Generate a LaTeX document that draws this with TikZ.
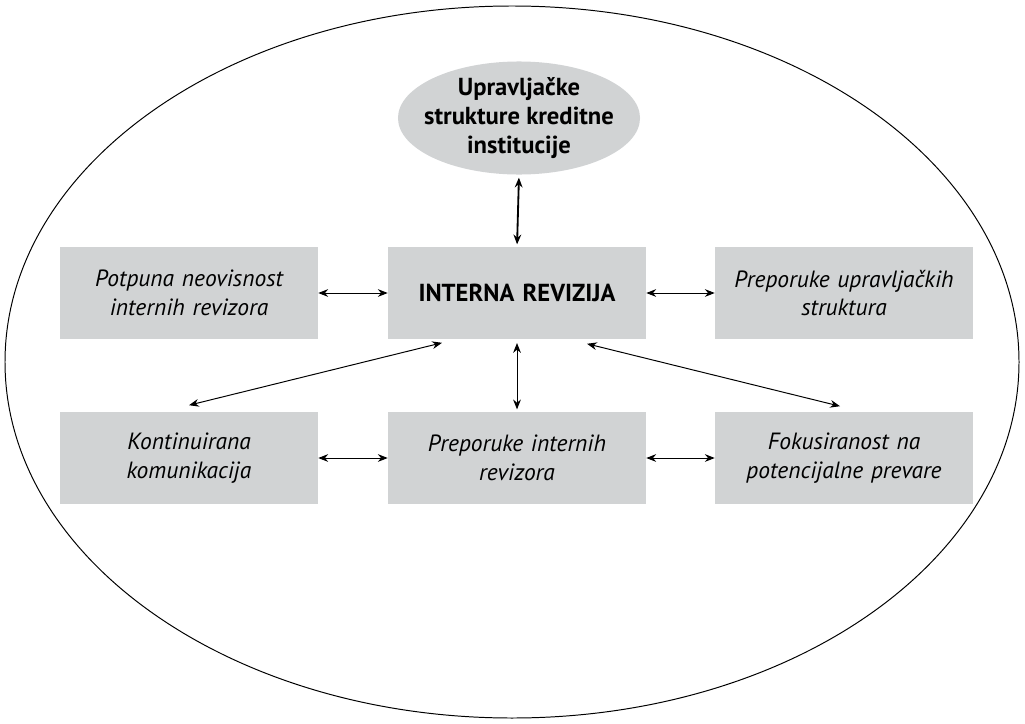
\documentclass[tikz,border=0pt]{standalone}
\usepackage{fontspec}
\setmainfont{PT Sans}
\usepackage{tikz}
\usetikzlibrary{positioning, shapes.geometric, arrows.meta, calc}

\definecolor{boxgray}{RGB}{209,211,212}

\tikzset{
  infobox/.style={fill=boxgray, minimum width=6.45cm, minimum height=2.275cm,
    text width=6.3cm, align=center, inner sep=0pt},
  topell/.style={ellipse, fill=boxgray, minimum width=6.05cm, minimum height=2.825cm},
  toptext/.style={align=center, font=\bfseries\fontsize{17.5}{20.5}\selectfont},
  dvarrow/.style={{Stealth[length=7pt,width=5.5pt]}-{Stealth[length=7pt,width=5.5pt]}, line width=0.7pt}
}

\begin{document}
\begin{tikzpicture}[x=0.025cm, y=-0.025cm]
    \useasboundingbox (0,0) rectangle (1025,723);

    % Outer ellipse
    \draw[line width=0.7pt] (512,362) ellipse [x radius=507, y radius=356];

    % Top ellipse
    \node[topell, label={[toptext]center:{Upravljačke\\strukture kreditne\\institucije}}] (uprav) at (519,118) {};

    % Central box
    \node[infobox, font=\bfseries\fontsize{17.5}{20.5}\selectfont] (intrev) at (517,293) {INTERNA REVIZIJA};

    % Surrounding boxes
    \foreach \n/\x/\y/\t in {potp/189/293/{Potpuna neovisnost\\internih revizora},
                             prepupr/844/293/{Preporuke upravljačkih\\struktura},
                             kont/189/458/{Kontinuirana\\komunikacija},
                             prepint/517/458/{Preporuke internih\\revizora},
                             fokus/844/458/{Fokusiranost na\\potencijalne prevare}} {
      \node[infobox, font=\itshape\fontsize{16.7}{20.5}\selectfont] (\n) at (\x,\y) {\t};
    }

    % Arrows
    \draw[dvarrow, line width=1.3pt, shorten <=2pt, shorten >=2pt] (uprav.south) -- (intrev.north);
    \foreach \a/\b in {potp/intrev, intrev/prepupr, kont/prepint, prepint/fokus} {
      \draw[dvarrow] (\a) -- (\b);
    }
    \draw[dvarrow, shorten <=3pt, shorten >=2pt] (intrev.south) -- (prepint.north);
    \draw[dvarrow] ($(intrev.south)+(-75,4)$) -- ($(kont.north)+(0,-7)$);
    \draw[dvarrow] ($(intrev.south)+(70,5)$) -- ($(fokus.north)+(-4,-6)$);
\end{tikzpicture}
\end{document}
